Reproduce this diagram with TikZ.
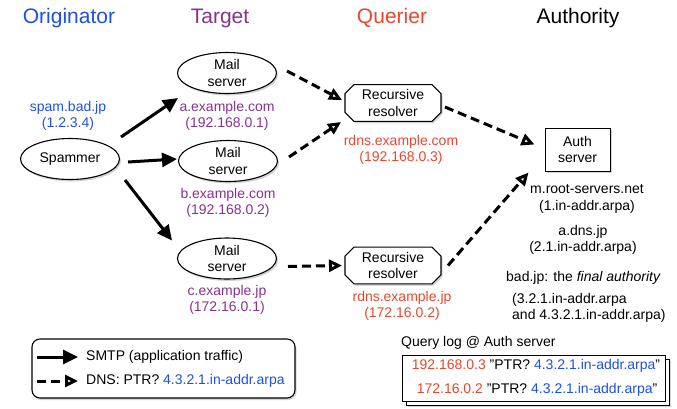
\documentclass[tikz,border=0pt]{standalone}
\usepackage{fontspec}
\setmainfont{Liberation Sans}
\usetikzlibrary{arrows.meta,shapes.misc,shapes.geometric,shadows,calc}
\definecolor{oblue}{RGB}{30,80,230}
\definecolor{tpurple}{RGB}{135,50,140}
\definecolor{qred}{RGB}{235,70,45}
\begin{document}
\begin{tikzpicture}[x=1pt,y=-1pt,
  every node/.style={font=\fontsize{14}{16.5}\selectfont, align=center, inner sep=0pt},
  title/.style={font=\fontsize{21}{24}\selectfont},
  shad/.style={drop shadow={opacity=0.35,shadow xshift=1.5pt,shadow yshift=-2pt}},
  mail/.style={ellipse, draw, line width=1.1pt, fill=white, shad, minimum width=99pt, minimum height=41pt},
  resolver/.style={chamfered rectangle, chamfered rectangle xsep=4pt, chamfered rectangle ysep=5pt, draw, line width=1.1pt, fill=white, shad, minimum width=96pt, minimum height=26pt},
  authbox/.style={rectangle, draw, line width=0.9pt, fill=white, shad, minimum width=65pt, minimum height=43pt},
  smtp/.style={line width=3pt, -{Triangle[length=15pt,width=14pt]}},
  dns/.style={line width=3pt, dash pattern=on 9pt off 5pt, -{Triangle[open,length=13pt,width=12pt,fill=white]}},
]
\useasboundingbox (0,0) rectangle (677,408);

% titles
\node[title, text=oblue] (t1) at (69,18) {Originator};
\node[title, text=tpurple] (t2) at (220,18) {Target};
\node[title, text=qred] (t3) at (392,18) {Querier};
\node[title] (t4) at (578,18) {Authority};

% nodes
\node[mail] (sp) at (70,159) {Spammer};
\node[mail] (ma) at (227,73) {Mail\\server};
\node[mail] (mb) at (228,161) {Mail\\server};
\node[mail] (mc) at (227,258.5) {Mail\\server};
\node[resolver] (r1) at (393,103) {Recursive\\resolver};
\node[resolver] (r2) at (393,265.5) {Recursive\\resolver};
\node[authbox] (au) at (577.5,149.5) {Auth\\server};

% labels
\node[text=oblue] (lsp) at (68,116) {spam.bad.jp\\(1.2.3.4)};
\node[text=tpurple] (lma) at (227,116) {a.example.com\\(192.168.0.1)};
\node[text=tpurple] (lmb) at (228,203) {b.example.com\\(192.168.0.2)};
\node[text=tpurple] (lmc) at (227,300) {c.example.jp\\(172.16.0.1)};
\node[text=qred] (lr1) at (401,150) {rdns.example.com\\(192.168.0.3)};
\node[text=qred] (lr2) at (402,306) {rdns.example.jp\\(172.16.0.2)};
\node (la1) at (587,199) {m.root-servers.net\\(1.in-addr.arpa)};
\node (la2) at (583,240) {a.dns.jp\\(2.1.in-addr.arpa)};
\node[anchor=west] (la3) at (506,278) {bad.jp: the \textit{final authority}};
\node[anchor=west, align=left] (la4) at (512,308) {(3.2.1.in-addr.arpa\\ and 4.3.2.1.in-addr.arpa)};

% connectors
\draw[smtp] ($(sp)+(51,-22)$) -- ($(ma)+(-49,25)$);
\draw[smtp] ($(sp)+(58,3)$) -- ($(mb)+(-51,-2)$);
\draw[smtp] ($(sp)+(55,21)$) -- ($(mc)+(-55,-18)$);
\draw[dns] ($(ma)+(60,-2)$) -- ($(r1)+(-51,-3)$);
\draw[dns] ($(mb)+(61,-4)$) -- ($(r1)+(-52,19)$);
\draw[dns] ($(mc)+(61,8)$) -- ($(r2)+(-51,0)$);
\draw[dns] ($(r1)+(52,4)$) -- ($(au)+(-43,-5)$);
\draw[dns] ($(r2)+(55,0)$) -- ($(au)+(-49,23)$);

% legend
\node[draw, line width=1.1pt, rounded corners=8pt, fill=white, shad, minimum width=263pt, minimum height=59pt] (leg) at (163.5,368.5) {};
\coordinate (l1a) at (37,357);
\coordinate (l1b) at (78,357);
\coordinate (l2a) at (37,381);
\coordinate (l2b) at (78,381);
\draw[smtp] (l1a) -- (l1b);
\draw[dns] (l2a) -- (l2b);
\node[anchor=west] (lt1) at (86,357) {SMTP (application traffic)};
\node[anchor=west] (lt2) at (86,381) {DNS: PTR? \textcolor{oblue}{4.3.2.1.in-addr.arpa}};

% query log
\node[anchor=west] (ql) at (401,343) {Query log @ Auth server};
\node[draw, line width=1pt, fill=white, shad, minimum width=263pt, minimum height=46pt] (qb2) at (537.5,382) {};
\node[draw, line width=1pt, fill=white, minimum width=263pt, minimum height=46pt] (qb) at (533.5,378) {};
\node (q1) at (536,366) {\textcolor{qred}{192.168.0.3} "PTR? \textcolor{oblue}{4.3.2.1.in-addr.arpa}"};
\node (q2) at (537,390) {\textcolor{qred}{172.16.0.2} "PTR? \textcolor{oblue}{4.3.2.1.in-addr.arpa}"};
\end{tikzpicture}
\end{document}
